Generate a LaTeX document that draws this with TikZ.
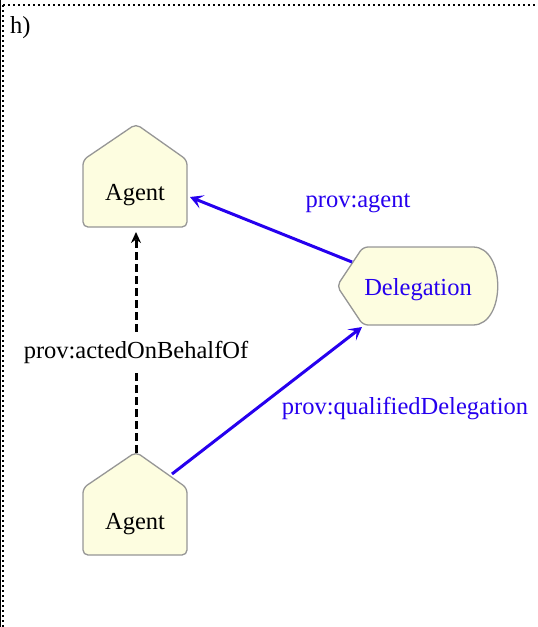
\documentclass[tikz,border=0pt]{standalone}
\usepackage{fontspec}
\setmainfont{Liberation Serif}
\usetikzlibrary{arrows.meta}
\definecolor{provblue}{RGB}{38,0,238}
\definecolor{nodefill}{RGB}{253,253,224}
\definecolor{nodeedge}{RGB}{150,150,150}
\tikzset{
  shapebox/.style={draw=nodeedge, fill=nodefill, line width=1.3pt, rounded corners=5pt},
  lbl/.style={font=\fontsize{24.5}{28}\selectfont, inner sep=1pt},
  bluelbl/.style={lbl, text=provblue},
  bluearrow/.style={draw=provblue, line width=3pt, -{Stealth[length=13pt,width=14pt,inset=6pt]}},
  dashline/.style={draw=black, line width=3pt, dash pattern=on 8pt off 4pt},
  dasharrow/.style={dashline, -{Stealth[length=11pt,width=10pt]}}
}
\begin{document}
\begin{tikzpicture}[x=1pt,y=-1pt]
\useasboundingbox (0,0) rectangle (538,627);
% frame
\draw[line width=0.8pt] (0.5,0) -- (0.5,627);
\draw[line width=1.5pt, dash pattern=on 1.5pt off 3.5pt] (3,5) -- (538,5);
\draw[line width=1.5pt, dash pattern=on 1.5pt off 3.5pt] (3,5) -- (3,627);
\node[lbl, anchor=west] (h) at (9,28) {h)};
% shapes
\draw[shapebox] (83,160) -- (136,124) -- (187,160) -- (187,227) -- (83,227) -- cycle;
\draw[shapebox] (83,488) -- (136,452) -- (187,488) -- (187,555) -- (83,555) -- cycle;
\draw[shapebox] (337,286) -- (363,247) -- (468,247)
  .. controls (506,247) and (506,325) .. (468,325) -- (363,325) -- cycle;
% nodes
\node[lbl] (agent1) at (135,195) {Agent};
\node[lbl] (agent2) at (135,524) {Agent};
\node[bluelbl] (deleg) at (418,290) {Delegation};
% labels
\node[bluelbl] (l1) at (358,203) {prov:agent};
\node[lbl, inner sep=3pt] (l2) at (136,352) {prov:actedOnBehalfOf};
\node[bluelbl] (l3) at (405,409) {prov:qualifiedDelegation};
% connector endpoints
\coordinate (a1right) at (190,197);
\coordinate (a1bottom) at (136,232);
\coordinate (a2top) at (136,453);
\coordinate (a2right) at (172,474);
\coordinate (dleft) at (352,262);
\coordinate (dbottom) at (362,327);
% connectors
\draw[bluearrow] (dleft) -- (a1right);
\draw[bluearrow] (a2right) -- (dbottom);
\draw[dashline] (a2top) -- ([yshift=-6pt]l2.south);
\draw[dasharrow] ([yshift=6pt]l2.north) -- (a1bottom);
\end{tikzpicture}
\end{document}
